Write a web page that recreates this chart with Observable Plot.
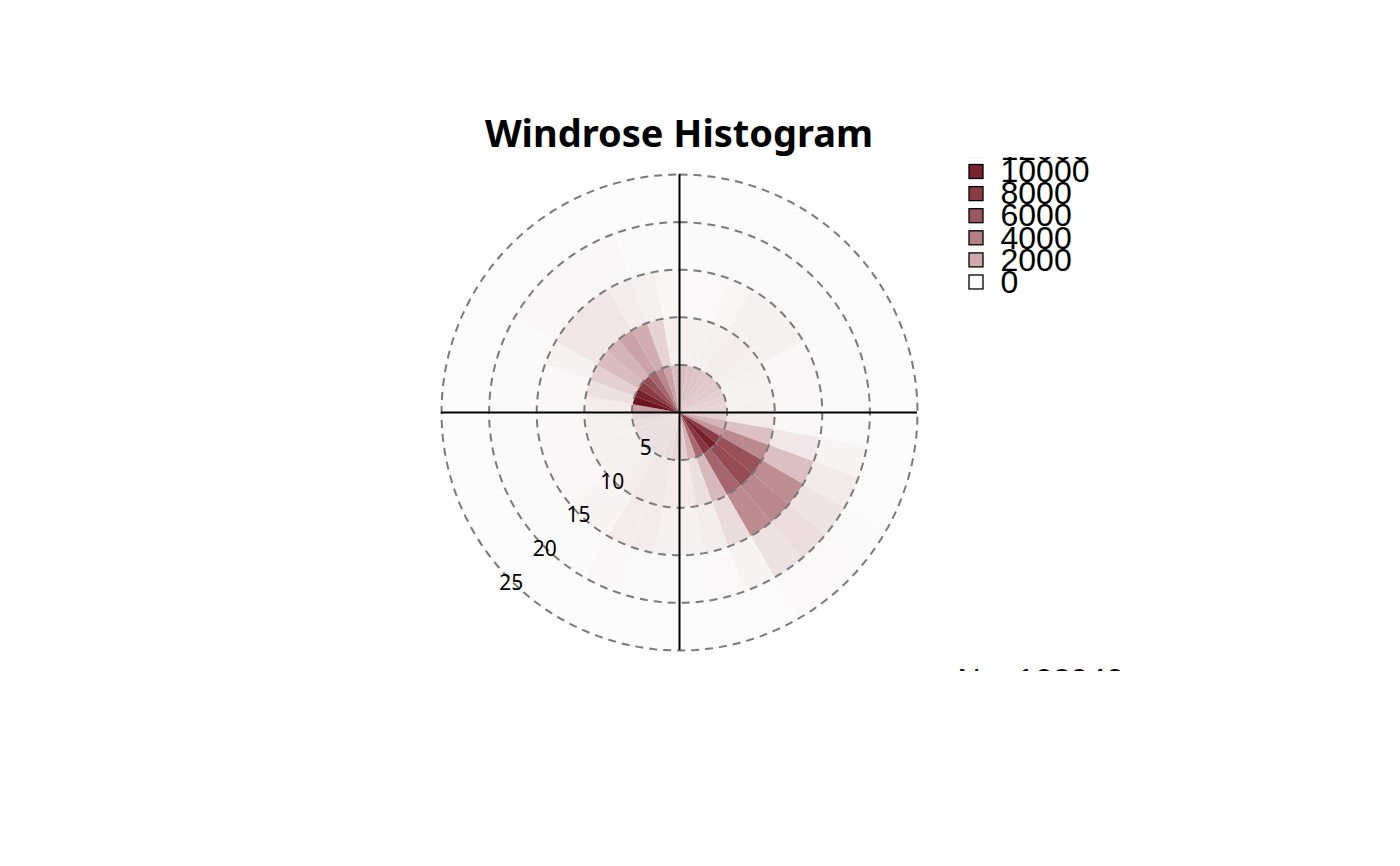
<!DOCTYPE html>
<html>
<head>
<meta charset="utf-8">
<script src="https://cdn.jsdelivr.net/npm/d3@7"></script>
<script src="https://cdn.jsdelivr.net/npm/@observablehq/plot@0.6"></script>
<style>
  html, body { margin: 0; padding: 0; background: #ffffff; }
  #wrap { position: relative; width: 1400px; height: 866px; overflow: hidden; }
  #title { position: absolute; left: 0; width: 1358px; top: 113px; text-align: center;
           font-family: "Noto Sans", sans-serif; font-weight: 700; font-size: 38px; line-height: 1; color: #000; }
  #chart { position: absolute; left: 0; top: 157px; }
</style>
</head>
<body>
<div id="wrap">
  <div id="title">Windrose Histogram</div>
  <div id="chart"></div>
</div>
<script>
// ---- data ----
// direction bins (compass degrees, start of each 10-degree sector)
const directions = [0,10,20,30,40,50,60,70,80,90,100,110,120,130,140,150,160,170,
                    180,190,200,210,220,230,240,250,260,270,280,290,300,310,320,330,340,350];
// speed bin edges
const speedBreaks = [0, 5, 10, 15, 20, 25];
// counts per direction for each speed bin
const count0to5 = [1450,1400,1350,1300,1250,1200,1050,1000,950,
                   1100,1750,3000,8000,10500,8500,5100,1800,1100,
                   900,750,700,700,700,700,700,750,900,
                   2400,11700,10200,8000,6600,5300,3600,2300,1500];
const count5to10 = [250,250,300,350,350,300,250,220,250,
                    460,1440,3500,6500,6900,5350,1650,680,460,
                    400,480,480,350,300,250,250,250,300,
                    400,680,1070,1540,1730,2300,1900,975,340];
const count10to15 = [100,100,150,270,270,270,120,120,120,
                     120,500,1460,3350,3600,3450,800,350,250,
                     250,400,400,200,200,120,120,120,120,
                     120,120,250,540,540,540,350,300,150];
const count15to20 = [40,60,80,60,80,40,40,40,40,
                     50,200,440,590,760,660,200,100,80,
                     80,80,120,40,40,40,40,40,40,
                     40,40,40,120,120,120,120,50,50];
const count20to25 = [5,5,5,5,5,5,5,5,5,
                     5,10,20,50,90,90,20,5,5,
                     5,5,5,5,5,5,5,5,5,
                     5,5,5,5,5,5,5,5,5];
const ringLabels = [5, 10, 15, 20, 25];
const legendValues = [0, 2000, 4000, 6000, 8000, 10000, 12000];
const colorStops = ["#fcfcfc", "#cfa9ad", "#b47f85", "#9c5860", "#8a3b45", "#7a2430", "#69111c"];
const totalLabel = "N = 102940";

// ---- layout ----
const W = 1400, H = 514;
const cxPx = 679, cyPx = 255;          // centre of the rose inside the svg
const rMax = speedBreaks[speedBreaks.length - 1];
const ppu = 238 / rMax;                 // pixels per speed unit
const xDomain = [-cxPx / ppu, (W - cxPx) / ppu];
const yDomain = [-(H - cyPx) / ppu, cyPx / ppu];
const toX = px => (px - cxPx) / ppu;
const toY = py => (cyPx - py) / ppu;     // py in svg pixels
const rad = d => d * Math.PI / 180;

// ---- build cell polygons ----
const bins = [count0to5, count5to10, count10to15, count15to20, count20to25];
const width = 360 / directions.length;
const steps = 12;
const cells = [];
directions.forEach((d, i) => {
  bins.forEach((arr, j) => {
    const r0 = speedBreaks[j], r1 = speedBreaks[j + 1];
    const id = d + "-" + j;
    for (let k = 0; k <= steps; k++) {
      const a = rad(d + width * k / steps);
      cells.push({id, x: r1 * Math.sin(a), y: r1 * Math.cos(a), value: arr[i]});
    }
    for (let k = steps; k >= 0; k--) {
      const a = rad(d + width * k / steps);
      cells.push({id, x: r0 * Math.sin(a), y: r0 * Math.cos(a), value: arr[i]});
    }
  });
});

// dashed rings
const ringPts = [];
ringLabels.forEach(r => {
  for (let k = 0; k < 180; k++) {
    const a = rad(k * 2);
    ringPts.push({r, x: r * Math.sin(a), y: r * Math.cos(a)});
  }
});

// legend rows (0 at the bottom)
const legendRowPx = i => 282 - 22.1 * i;   // page y of row centre
const pageToSvgY = py => py - 157;
const legendRows = legendValues.map((v, i) => ({
  value: v,
  label: String(v),
  yc: toY(pageToSvgY(legendRowPx(i)))
}));
const half = 7 / ppu;

const chart = Plot.plot({
  width: W, height: H,
  marginTop: 0, marginRight: 0, marginBottom: 0, marginLeft: 0,
  x: {domain: xDomain, range: [0, W], axis: null},
  y: {domain: yDomain, range: [H, 0], axis: null},
  color: {type: "linear", domain: [0, 12000], interpolate: d3.piecewise(d3.interpolateRgb, colorStops), clamp: true},
  style: {overflow: "hidden", background: "transparent", fontFamily: "Noto Sans"},
  marks: [
    Plot.line(cells, {x: "x", y: "y", z: "id", fill: "value", stroke: "none", curve: "linear-closed"}),
    Plot.line(ringPts, {x: "x", y: "y", z: "r", stroke: "#7a7a7a", strokeWidth: 2,
                        strokeDasharray: "8,6", curve: "linear-closed", strokeLinecap: "butt"}),
    Plot.ruleY([0], {x1: -rMax, x2: rMax, stroke: "#000", strokeWidth: 2}),
    Plot.ruleX([0], {y1: -rMax, y2: rMax, stroke: "#000", strokeWidth: 2}),
    Plot.text(ringLabels, {
      x: r => r * Math.sin(rad(225)), y: r => r * Math.cos(rad(225)), dy: 2,
      text: r => String(r), fontSize: 21, fontFamily: "Noto Sans", fill: "#000"
    }),
    Plot.rect(legendRows, {
      x1: toX(969), x2: toX(983), y1: d => d.yc - half, y2: d => d.yc + half,
      fill: "value", stroke: "#000", strokeWidth: 1.3
    }),
    Plot.text(legendRows, {
      x: toX(1000), y: "yc", text: "label", textAnchor: "start",
      fontSize: 32, fontFamily: "Liberation Sans", fill: "#000"
    }),
    Plot.text([totalLabel], {
      x: toX(957), y: toY(pageToSvgY(690)), text: d => d, textAnchor: "start", lineAnchor: "bottom",
      fontSize: 32, fontFamily: "Liberation Sans", fill: "#000"
    })
  ]
});
document.getElementById("chart").appendChild(chart);
</script>
</body>
</html>
